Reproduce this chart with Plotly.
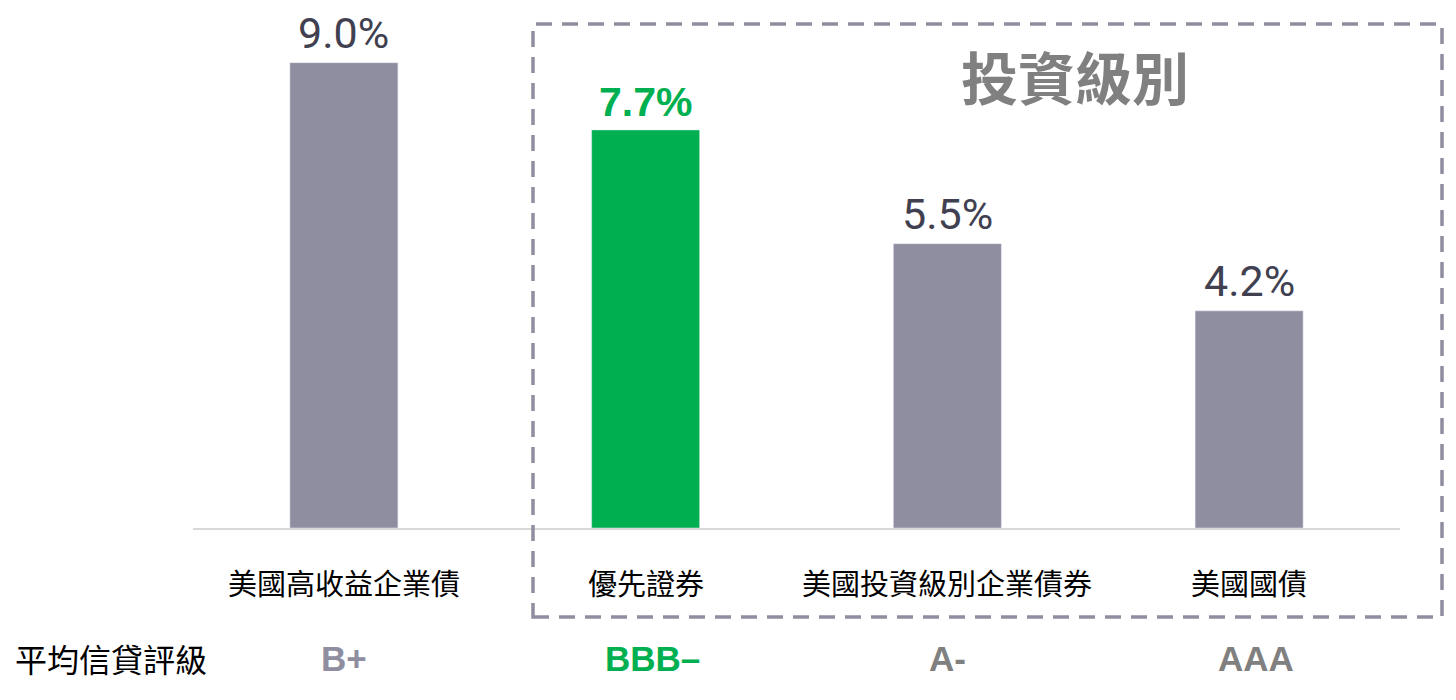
import plotly.graph_objects as go

categories = ["美國高收益企業債", "優先證券", "美國投資級別企業債券", "美國國債"]
values = [9.0, 7.7, 5.5, 4.2]
value_labels = ["9.0%", "7.7%", "5.5%", "4.2%"]
ratings = ["B+", "BBB–", "A-", "AAA"]
row_label = "平均信貸評級"
box_title = "投資級別"

GRAY = "#8e8ea0"
GREEN = "#00b050"
bar_colors = [GREEN if i == 1 else GRAY for i in range(len(categories))]
rating_colors = [GRAY, GREEN, "#808080", "#808080"]
rating_xshift = [0, 7, 0, 7]

CJK = "Noto Sans CJK TC"
fig = go.Figure(go.Bar(x=categories, y=values, marker_color=bar_colors, width=0.358,
                       hoverinfo="skip"))

W = 1207.0  # plot width px
H = 517.0   # plot height px

ann = []
for i, (c, v, t) in enumerate(zip(categories, values, value_labels)):
    hl = i == 1
    ann.append(dict(x=c, y=v, xref="x", yref="y", text=f"<b>{t}</b>" if hl else t,
                    showarrow=False, yanchor="bottom", xanchor="center", yshift=3,
                    font=dict(family="Liberation Sans, Arial" if hl else "Roboto, Arial",
                              size=41 if hl else 43,
                              color=GREEN if hl else "#404050")))
    ann.append(dict(x=c, y=-54 / H, xref="x", yref="paper", text=c, showarrow=False,
                    yanchor="middle", xanchor="center",
                    font=dict(family=CJK, size=29, color="#000000")))
    ann.append(dict(x=c, y=-130 / H, xref="x", yref="paper", text=f"<b>{ratings[i]}</b>",
                    showarrow=False, yanchor="middle", xanchor="center",
                    xshift=rating_xshift[i],
                    font=dict(family="Liberation Sans, Arial", size=35, color=rating_colors[i])))
ann.append(dict(x=(13 - 193) / W, y=-130 / H, xref="paper", yref="paper", text=row_label,
                showarrow=False, xanchor="left", yanchor="middle",
                font=dict(family=CJK, size=32, color="#000000")))
ann.append(dict(x=(1075 - 193) / W, y=(528 - 75) / H, xref="paper", yref="paper",
                text=f"<b>{box_title}</b>", showarrow=False, yanchor="middle", xanchor="center",
                font=dict(family=CJK, size=57, color="#808080")))

fig.add_shape(type="rect", xref="paper", yref="paper",
              x0=(533 - 193) / W, x1=(1442 - 193) / W,
              y0=(528 - 617) / H, y1=(528 - 24) / H,
              line=dict(color=GRAY, width=3.5, dash="16px,10px"), fillcolor="rgba(0,0,0,0)")

fig.update_layout(
    width=1456, height=700,
    margin=dict(l=185, r=64, t=3, b=180),
    plot_bgcolor="white", paper_bgcolor="white",
    showlegend=False, annotations=ann,
    xaxis=dict(showticklabels=False, showgrid=False, showline=True, linecolor="#d9d9d9",
               linewidth=2, ticks="", range=[-0.5, 3.5], fixedrange=True),
    yaxis=dict(visible=False, range=[0, 10], showgrid=False, zeroline=False, fixedrange=True),
)
fig.write_html("out.html", config={"displayModeBar": False})
